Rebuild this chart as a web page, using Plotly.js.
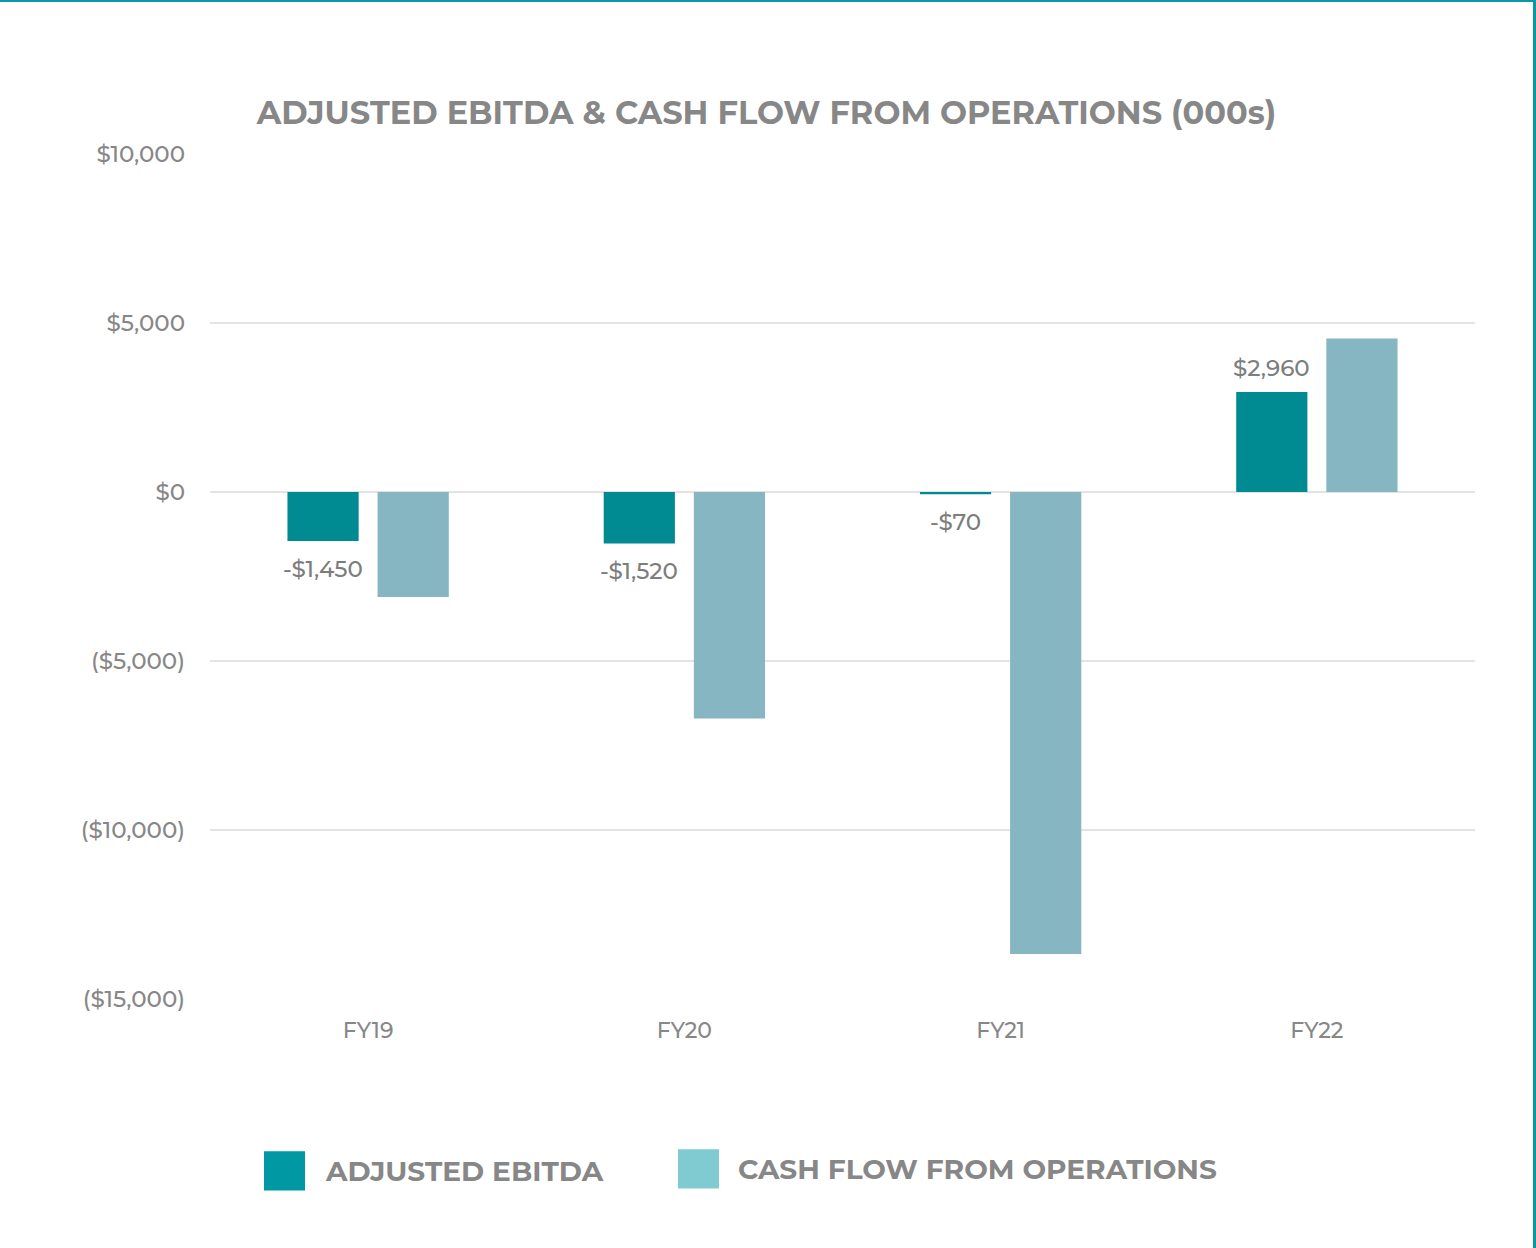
<!DOCTYPE html>
<html><head><meta charset="utf-8">
<script src="https://cdn.plot.ly/plotly-3.0.1.min.js"></script>
<style>
html,body{margin:0;padding:0;background:#fff;}
#wrap{width:1533px;height:1246px;border-top:2px solid #0a98a3;border-right:3px solid #0a98a3;}
#chart{width:1533px;height:1246px;}
</style></head><body>
<div id="wrap"><div id="chart"></div></div>
<script>
const categories = ["FY19","FY20","FY21","FY22"];
const ebitda = [-1450, -1520, -70, 2960];
const ebitdaLabels = ["-$1,450","-$1,520","-$70","$2,960"];
const cashFlow = [-3110, -6700, -13670, 4540];
const tickVals = [10000, 5000, 0, -5000, -10000, -15000];
const tickText = ["$10,000","$5,000","$0","($5,000)","($10,000)","($15,000)"];
const seriesNames = ["ADJUSTED EBITDA","CASH FLOW FROM OPERATIONS"];

const FONT = "Montserrat, 'DejaVu Sans', sans-serif";
const GREY = "#878787";

const traces = [
  {type:'bar', x:categories, y:ebitda, name:seriesNames[0], marker:{color:'#008a92'},
   hoverinfo:'skip', showlegend:false},
  {type:'bar', x:categories, y:cashFlow, name:seriesNames[1], marker:{color:'#86b6c1'},
   hoverinfo:'skip', showlegend:false}
];

const valueLabels = categories.map((c, i) => ({
  text: ebitdaLabels[i], xref:'x', yref:'y', x:c, y:ebitda[i], xshift:-45,
  yanchor: ebitda[i] < 0 ? 'top' : 'bottom', yshift: ebitda[i] < 0 ? -12 : 8,
  showarrow:false, font:{family:FONT, size:23, weight:500, color:'#7d7d7d'}
}));

const layout = {
  width:1533, height:1246,
  margin:{l:210, r:58, t:152, b:249},
  paper_bgcolor:'#ffffff', plot_bgcolor:'#ffffff',
  barmode:'group', bargap:0.43, bargroupgap:0.21,
  title:{text:'<b>ADJUSTED EBITDA &amp; CASH FLOW FROM OPERATIONS (000s)</b>', x:0.5, xanchor:'center', y:1-111/1246, yanchor:'middle',
         font:{family:FONT,size:32,color:GREY}},
  xaxis:{type:'category', showgrid:false, zeroline:false, showline:false, ticks:'',
         tickfont:{family:FONT,size:22,weight:500,color:GREY}, ticklabelstandoff:16, fixedrange:true},
  yaxis:{range:[-15000,10000], tickvals:tickVals, ticktext:tickText, showgrid:true, gridcolor:'#e3e3e3', gridwidth:2,
         zeroline:true, zerolinecolor:'#e3e3e3', zerolinewidth:2, showline:false, ticks:'',
         tickfont:{family:FONT,size:23,weight:500,color:GREY}, ticklabelstandoff:24, fixedrange:true},
  showlegend:false,
  shapes:[
    {type:'rect', xref:'paper', yref:'paper', x0:(264-210)/1265, x1:(305-210)/1265, y0:-(1188-997)/843, y1:-(1149-997)/843,
     fillcolor:'#0098a2', line:{width:0}},
    {type:'rect', xref:'paper', yref:'paper', x0:(678-210)/1265, x1:(719-210)/1265, y0:-(1186-997)/843, y1:-(1147-997)/843,
     fillcolor:'#7fcbd1', line:{width:0}}
  ],
  annotations: valueLabels.concat([
    {text:'<b>'+seriesNames[0]+'</b>', xref:'paper', yref:'paper', x:(323-210)/1265, y:-(1169-997)/843, xanchor:'left', yanchor:'middle',
     showarrow:false, font:{family:FONT,size:28,color:GREY}},
    {text:'<b>'+seriesNames[1]+'</b>', xref:'paper', yref:'paper', x:(736-210)/1265, y:-(1167-997)/843, xanchor:'left', yanchor:'middle',
     showarrow:false, font:{family:FONT,size:28,color:GREY}}
  ])
};
Plotly.newPlot('chart', traces, layout, {displayModeBar:false, staticPlot:true});
</script>
</body></html>
